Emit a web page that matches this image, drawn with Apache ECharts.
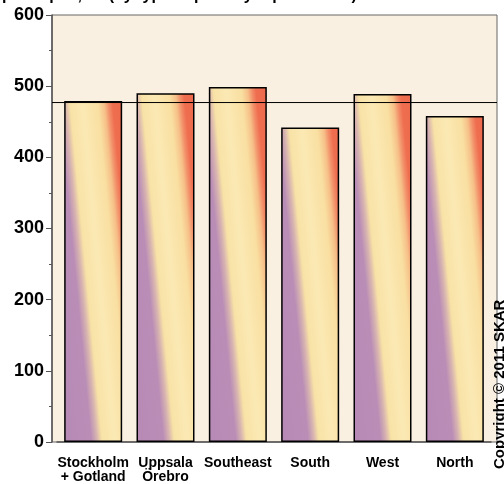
<!DOCTYPE html>
<html>
<head>
<meta charset="utf-8">
<script src="https://cdn.jsdelivr.net/npm/echarts@6/dist/echarts.min.js"></script>
<style>html,body{margin:0;padding:0;background:#fff;}#c{width:504px;height:484px;}</style>
</head>
<body>
<div id="c"></div>
<script>
var categories = ['Stockholm\n+ Gotland', 'Uppsala\nÖrebro', 'Southeast', 'South', 'West', 'North'];
var values = [479, 490, 499, 442, 489, 458];
var referenceValue = 477;
var yTicks = [0, 100, 200, 300, 400, 500, 600];
var titleText = 'per capita, all (by type of primary replacement)';
var copyrightText = 'Copyright © 2011 SKAR';

var FONT = '"Liberation Sans", Arial, sans-serif';
var chart = echarts.init(document.getElementById('c'), null, {renderer: 'canvas'});

var stops = [
  {offset: 0, color: '#b68ab5'},
  {offset: 0.30, color: '#b98db6'},
  {offset: 0.365, color: '#d8b4b0'},
  {offset: 0.42, color: '#f8e2a6'},
  {offset: 0.56, color: '#fbe9b4'},
  {offset: 0.73, color: '#f9dfa1'},
  {offset: 0.80, color: '#f6bf88'},
  {offset: 0.845, color: '#f2906a'},
  {offset: 0.89, color: '#ef6e50'},
  {offset: 1, color: '#ee6a4c'}
];

var PLOT = {left: 52, right: 497, top: 15, bottom: 442};
var BAR_W = 58;

var option = {
  animation: false,
  backgroundColor: '#ffffff',
  textStyle: {fontFamily: FONT},
  grid: {left: 57, right: 13, top: PLOT.top, bottom: 484 - PLOT.bottom, show: false},
  graphic: [
    {type: 'rect', z: -10, shape: {x: PLOT.left, y: PLOT.top, width: PLOT.right - PLOT.left, height: PLOT.bottom - PLOT.top},
     style: {fill: '#faf0e2', stroke: '#666', lineWidth: 1}},
    {type: 'text', x: 2, y: 4, style: {text: titleText, font: 'bold 16px ' + FONT, fill: '#000', textVerticalAlign: 'bottom'}},
    {type: 'text', x: 492, y: 469, rotation: Math.PI / 2, style: {text: copyrightText, font: 'bold 15px ' + FONT, fill: '#000', textVerticalAlign: 'top'}}
  ],
  xAxis: {
    type: 'category',
    data: categories,
    axisLine: {lineStyle: {color: '#555', width: 1.5}},
    axisTick: {alignWithLabel: true, length: 5, lineStyle: {color: '#555'}},
    axisLabel: {color: '#000', fontWeight: 'bold', fontSize: 14, lineHeight: 14, margin: 14, interval: 0}
  },
  yAxis: {
    type: 'value',
    offset: 5,
    min: yTicks[0], max: yTicks[yTicks.length - 1], interval: 100,
    axisLine: {show: true, lineStyle: {color: '#555', width: 1.5}},
    axisTick: {show: true, length: 6, lineStyle: {color: '#555'}},
    minorTick: {show: true, splitNumber: 2, length: 3, lineStyle: {color: '#555'}},
    splitLine: {show: false},
    axisLabel: {color: '#000', fontWeight: 'bold', fontSize: 18, margin: 8}
  },
  series: [{
    type: 'bar',
    data: values,
    barWidth: BAR_W,
    itemStyle: {color: '#f8e2a6', borderColor: '#000', borderWidth: 1.5}
  }]
};
chart.setOption(option);

// Build per-bar global gradients and the reference line from the axis scales
var yBase = chart.convertToPixel({yAxisIndex: 0}, 0);
var GRAD_LEN = 90, dx = 0.9955, dy = -0.0946;
var dataItems = values.map(function (v, i) {
  var cx = chart.convertToPixel({xAxisIndex: 0}, i);
  var left = cx - BAR_W / 2;
  var g = new echarts.graphic.LinearGradient(left, yBase, left + GRAD_LEN * dx, yBase + GRAD_LEN * dy, stops, true);
  return {value: v, itemStyle: {color: g}};
});
var yRef = chart.convertToPixel({yAxisIndex: 0}, referenceValue);
option.series[0].data = dataItems;
option.graphic.push({type: 'line', z: 10, shape: {x1: PLOT.left, y1: yRef, x2: PLOT.right, y2: yRef}, style: {stroke: '#000', lineWidth: 1}});
chart.setOption(option, true);
</script>
</body>
</html>
